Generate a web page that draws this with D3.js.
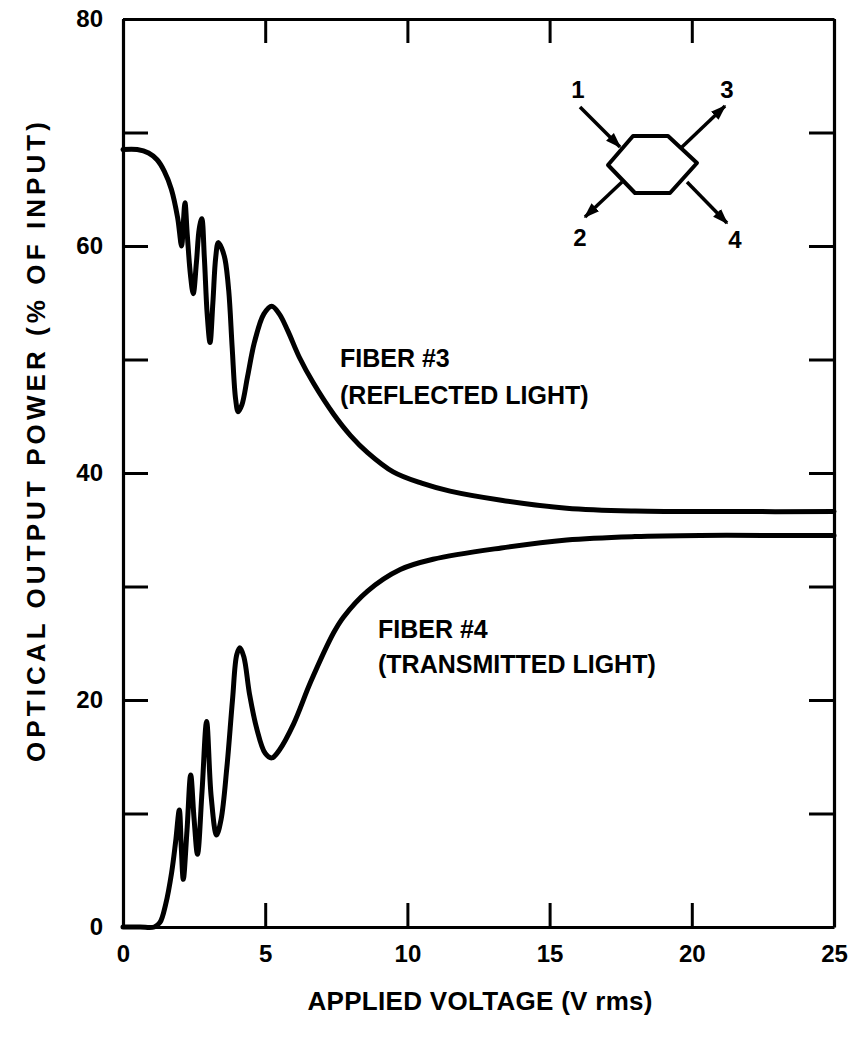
<!DOCTYPE html>
<html>
<head>
<meta charset="utf-8">
<script src="https://cdn.jsdelivr.net/npm/d3@7"></script>
<style>
  body { margin: 0; background: #fff; }
  text { font-family: "Liberation Sans", Arial, Helvetica, sans-serif; font-weight: bold; fill: #000; }
</style>
</head>
<body>
<svg id="chart" width="859" height="1049"></svg>
<script>
// Fiber #3 (reflected light): applied voltage (V rms) and output (% of input)
const voltage3 = [0, 0.5, 0.9, 1.2, 1.45, 1.7, 1.92, 2.06, 2.12, 2.18, 2.26, 2.37, 2.47, 2.58, 2.68, 2.77,
  2.86, 2.96, 3.06, 3.16, 3.26, 3.35, 3.47, 3.59, 3.72, 3.84, 3.96, 4.05, 4.18, 4.38, 4.62, 4.95,
  5.23, 5.5, 5.8, 6.2, 6.7, 7.4, 8.0, 8.6, 9.5, 10.5, 11.5, 13.3, 15.6, 18.0, 21.5, 25];
const fiber3 = [68.5, 68.5, 68.2, 67.6, 66.6, 65.0, 62.5, 60.0, 62.0, 63.8, 61.0, 57.5, 55.8, 58.5, 61.5, 62.4,
  59.0, 54.0, 51.5, 55.0, 59.0, 60.3, 59.8, 58.8, 56.0, 51.0, 46.5, 45.4, 46.0, 48.5, 51.5, 54.0,
  54.7, 54.0, 52.5, 50.2, 47.9, 45.2, 43.3, 41.8, 40.1, 39.1, 38.4, 37.6, 36.9, 36.65, 36.6, 36.6];

// Fiber #4 (transmitted light)
const voltage4 = [0, 0.6, 1.1, 1.3, 1.5, 1.71, 1.85, 1.98, 2.05, 2.12, 2.25, 2.38, 2.5, 2.62, 2.78, 2.94,
  3.1, 3.29, 3.45, 3.65, 3.85, 4.0, 4.11, 4.25, 4.45, 4.7, 5.0, 5.23, 5.5, 6.0, 6.6, 7.4, 7.75,
  8.6, 9.75, 10.9, 13.3, 15.6, 18.0, 20.3, 22.5, 25];
const fiber4 = [0, 0, 0, 0.4, 2.0, 4.8, 7.5, 10.3, 7.0, 4.2, 8.5, 13.4, 9.5, 6.4, 12.0, 18.1,
  11.5, 8.1, 9.5, 14.0, 20.0, 24.0, 24.6, 23.8, 20.5, 17.5, 15.3, 14.9, 15.6, 17.9, 21.6, 25.9, 27.3,
  29.6, 31.5, 32.4, 33.4, 34.1, 34.4, 34.5, 34.5, 34.5];

const xTicks = [0, 5, 10, 15, 20, 25];
const yTicks = [0, 10, 20, 30, 40, 50, 60, 70, 80];
const yLabelled = [0, 20, 40, 60, 80];

const svg = d3.select("#chart");
const plotLeft = 123, plotRight = 834, plotTop = 19, plotBottom = 927;

const x = d3.scaleLinear().domain([0, 25]).range([plotLeft, plotRight]);
const y = d3.scaleLinear().domain([0, 80]).range([plotBottom, plotTop]);

function styleAxis(g, size) {
  g.attr("font-family", null).attr("font-size", size);
  g.selectAll("path.domain").attr("stroke", "#000").attr("stroke-width", 3.2);
  g.selectAll(".tick line").attr("stroke", "#000").attr("stroke-width", 3);
}

// Bottom axis with inward ticks
svg.append("g")
  .attr("transform", `translate(0,${plotBottom})`)
  .call(d3.axisBottom(x).tickValues(xTicks).tickSize(-24).tickSizeOuter(0).tickPadding(18).tickFormat(d3.format("d")))
  .call(g => styleAxis(g, 24));

// Top axis (ticks only)
svg.append("g")
  .attr("transform", `translate(0,${plotTop})`)
  .call(d3.axisTop(x).tickValues(xTicks).tickSize(-24).tickSizeOuter(0).tickFormat(""))
  .call(g => styleAxis(g, 24));

// Left axis: ticks every 10, labels every 20
svg.append("g")
  .attr("transform", `translate(${plotLeft},0)`)
  .call(d3.axisLeft(y).tickValues(yTicks).tickSize(-25).tickSizeOuter(0).tickPadding(20)
    .tickFormat(d => yLabelled.includes(d) ? d3.format("d")(d) : ""))
  .call(g => styleAxis(g, 24));

// Right axis (ticks only)
svg.append("g")
  .attr("transform", `translate(${plotRight},0)`)
  .call(d3.axisRight(y).tickValues(yTicks).tickSize(-25).tickSizeOuter(0).tickFormat(""))
  .call(g => styleAxis(g, 24));

// Curves
const line = d3.line().x(d => x(d[0])).y(d => y(d[1])).curve(d3.curveCatmullRom.alpha(0.5));
[[voltage3, fiber3], [voltage4, fiber4]].forEach(([vs, ps]) => {
  svg.append("path")
    .datum(vs.map((v, i) => [v, ps[i]]))
    .attr("d", line)
    .attr("fill", "none")
    .attr("stroke", "#000")
    .attr("stroke-width", 5)
    .attr("stroke-linejoin", "round")
    .attr("stroke-linecap", "round");
});

// Curve labels
const labels = [
  { text: "FIBER #3", x: 340, y: 367 },
  { text: "(REFLECTED LIGHT)", x: 340, y: 404 },
  { text: "FIBER #4", x: 378, y: 638 },
  { text: "(TRANSMITTED LIGHT)", x: 378, y: 673 }
];
svg.selectAll("text.curve-label").data(labels).enter().append("text")
  .attr("class", "curve-label")
  .attr("x", d => d.x).attr("y", d => d.y)
  .attr("font-size", 25)
  .text(d => d.text);

// Axis titles
svg.append("text")
  .attr("x", 480).attr("y", 1010)
  .attr("text-anchor", "middle")
  .attr("font-size", 26)
  .attr("textLength", 345)
  .attr("lengthAdjust", "spacing")
  .text("APPLIED VOLTAGE (V rms)");

svg.append("text")
  .attr("transform", "translate(45,442) rotate(-90)")
  .attr("text-anchor", "middle")
  .attr("font-size", 26)
  .attr("textLength", 640)
  .attr("lengthAdjust", "spacing")
  .text("OPTICAL OUTPUT POWER (% OF INPUT)");

// Coupler sketch: hexagon with four numbered fibre ports
const cx = 652, cy = 164;
const sketch = svg.append("g").attr("transform", `translate(${cx},${cy})`);
const defs = svg.append("defs");
defs.append("marker")
  .attr("id", "head")
  .attr("viewBox", "0 0 10 10")
  .attr("refX", 9).attr("refY", 5)
  .attr("markerWidth", 4.5).attr("markerHeight", 4.5)
  .attr("markerUnits", "strokeWidth")
  .attr("orient", "auto")
  .append("path").attr("d", "M0,1.5 L10,5 L0,8.5 Z").attr("fill", "#000");

const hex = [[-44, 1], [-19, -28], [16, -28], [45, -1], [18, 29], [-17, 29]];
sketch.append("path")
  .attr("d", d3.line()(hex) + "Z")
  .attr("fill", "none").attr("stroke", "#000").attr("stroke-width", 4)
  .attr("stroke-linejoin", "round");

const ports = [
  { from: [-72, -57], to: [-32, -17], label: "1", lx: -74, ly: -66 },
  { from: [30, -17], to: [73, -58], label: "3", lx: 75, ly: -66 },
  { from: [-30, 18], to: [-67, 53], label: "2", lx: -72, ly: 82 },
  { from: [35, 18], to: [75, 59], label: "4", lx: 83, ly: 84 }
];
sketch.selectAll("line.port").data(ports).enter().append("line")
  .attr("class", "port")
  .attr("x1", d => d.from[0]).attr("y1", d => d.from[1])
  .attr("x2", d => d.to[0]).attr("y2", d => d.to[1])
  .attr("stroke", "#000").attr("stroke-width", 3.5)
  .attr("marker-end", "url(#head)");
sketch.selectAll("text.port-label").data(ports).enter().append("text")
  .attr("class", "port-label")
  .attr("x", d => d.lx).attr("y", d => d.ly)
  .attr("text-anchor", "middle")
  .attr("font-size", 24)
  .text(d => d.label);
</script>
</body>
</html>
